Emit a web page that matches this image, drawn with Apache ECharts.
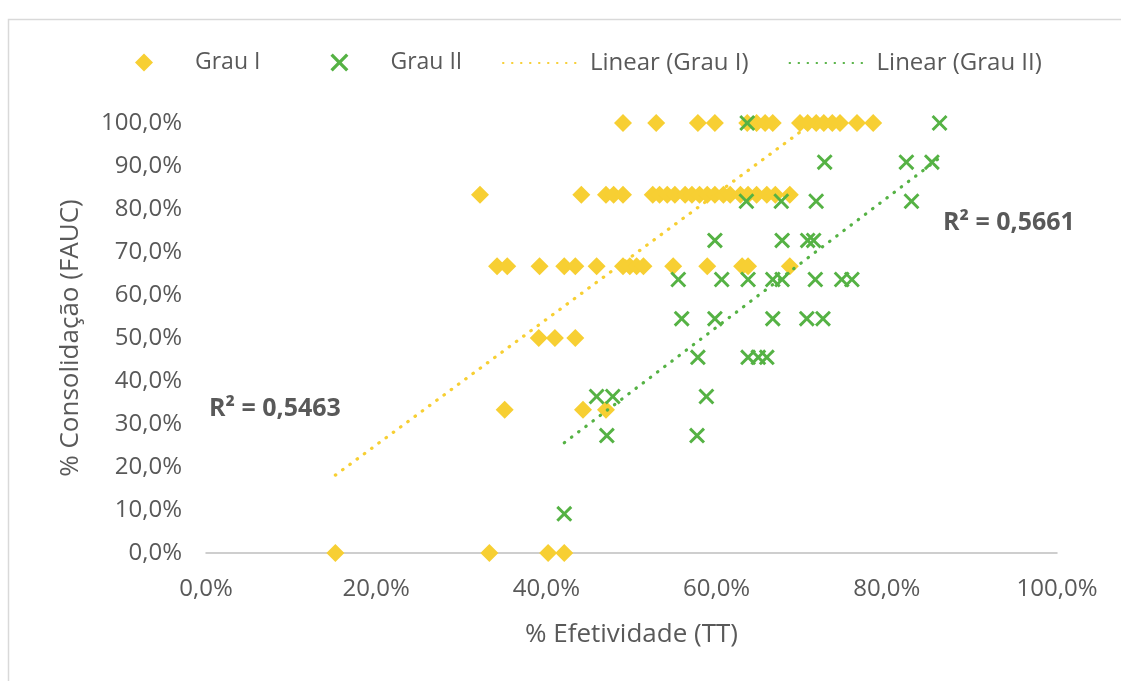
<!DOCTYPE html>
<html>
<head>
<meta charset="utf-8">
<script src="https://cdn.jsdelivr.net/npm/echarts@6/dist/echarts.min.js"></script>
<style>
  html, body { margin: 0; padding: 0; background: #fff; }
  #chart { width: 1121px; height: 681px; }
</style>
</head>
<body>
<div id="chart"></div>
<script>
// Grau I: % Efetividade (TT) vs % Consolidação (FAUC)
const grau1X = [
  49.0, 52.9, 57.8, 59.8, 63.6, 64.7, 65.7, 66.6, 69.8, 70.7, 71.7, 72.6, 73.6, 74.5, 76.5, 78.4,
  32.2, 44.1, 47.0, 47.9, 49.0, 52.5, 53.3, 54.2, 55.1, 56.3, 57.1, 58.0, 58.9, 59.8, 60.8, 61.6, 62.8, 63.7, 64.7, 65.9, 66.9, 68.6,
  34.2, 35.4, 39.2, 42.1, 43.4, 45.9, 49.0, 49.8, 50.6, 51.4, 54.9, 58.9, 63.0, 63.7, 68.6,
  39.1, 41.0, 43.4,
  35.1, 44.3, 47.0,
  15.2, 33.3, 40.2, 42.1
];
const grau1Y = [
  100, 100, 100, 100, 100, 100, 100, 100, 100, 100, 100, 100, 100, 100, 100, 100,
  83.3, 83.3, 83.3, 83.3, 83.3, 83.3, 83.3, 83.3, 83.3, 83.3, 83.3, 83.3, 83.3, 83.3, 83.3, 83.3, 83.3, 83.3, 83.3, 83.3, 83.3, 83.3,
  66.7, 66.7, 66.7, 66.7, 66.7, 66.7, 66.7, 66.7, 66.7, 66.7, 66.7, 66.7, 66.7, 66.7, 66.7,
  50, 50, 50,
  33.3, 33.3, 33.3,
  0, 0, 0, 0
];

// Grau II
const grau2X = [
  63.6, 86.2,
  72.7, 82.3, 85.3,
  63.5, 67.6, 71.7, 82.9,
  59.8, 67.7, 70.7, 71.4,
  55.5, 60.6, 63.7, 66.6, 67.7, 71.6, 74.7, 75.9,
  55.9, 59.8, 66.6, 70.6, 72.5,
  57.8, 63.7, 64.9, 65.9,
  45.9, 47.8, 58.8,
  47.1, 57.7,
  42.1
];
const grau2Y = [
  100, 100,
  90.9, 90.9, 90.9,
  81.8, 81.8, 81.8, 81.8,
  72.7, 72.7, 72.7, 72.7,
  63.6, 63.6, 63.6, 63.6, 63.6, 63.6, 63.6, 63.6,
  54.5, 54.5, 54.5, 54.5, 54.5,
  45.5, 45.5, 45.5, 45.5,
  36.4, 36.4, 36.4,
  27.3, 27.3,
  9.1
];

// Linear trendlines (slope, intercept) and their R²
const trend1 = { slope: 1.461, intercept: -4.1, r2: '0,5463' };
const trend2 = { slope: 1.502, intercept: -37.6, r2: '0,5661' };

const seriesNames = ['Grau I', 'Grau II', 'Linear (Grau I)', 'Linear (Grau II)'];
const axisTitleX = '% Efetividade (TT)';
const axisTitleY = '% Consolidação (FAUC)';

const YELLOW = '#F7CF33';
const GREEN = '#55B244';
const TEXT = '#595959';
const FONT = '"Open Sans", "Noto Sans", sans-serif';
const CROSS = 'path://M1.3,0 L5,3.7 L8.7,0 L10,1.3 L6.3,5 L10,8.7 L8.7,10 L5,6.3 L1.3,10 L0,8.7 L3.7,5 L0,1.3 Z';

const zip = (xs, ys) => xs.map((x, i) => [x, ys[i]]);
function trendPoints(xs, t) {
  const lo = Math.min(...xs), hi = Math.max(...xs);
  return [[lo, t.slope * lo + t.intercept], [hi, t.slope * hi + t.intercept]];
}
const pct = v => v.toFixed(1).replace('.', ',') + '%';

const dotted = color => ({ color: color, width: 3.2, type: [0.5, 8.5], cap: 'round', opacity: 1 });

const chart = echarts.init(document.getElementById('chart'), null, { renderer: 'canvas' });
chart.setOption({
  animation: false,
  backgroundColor: '#fff',
  textStyle: { fontFamily: FONT },
  grid: { left: 206, right: 64, top: 123, bottom: 128 },
  legend: [
    {
      data: [seriesNames[0], seriesNames[1]],
      left: 130, top: 46,
      itemWidth: 18, itemHeight: 18, itemGap: 70,
      textStyle: { color: TEXT, fontSize: 23, fontFamily: FONT, padding: [0, 0, 0, 37] }
    },
    {
      data: [seriesNames[2], seriesNames[3]],
      left: 497, top: 46,
      itemWidth: 80, itemHeight: 18, itemGap: 40,
      itemStyle: { opacity: 0 },
      textStyle: { color: TEXT, fontSize: 24, fontFamily: FONT, padding: [0, 0, 0, 2] }
    }
  ],
  xAxis: {
    type: 'value', min: 0, max: 100, interval: 20,
    name: axisTitleX, nameLocation: 'middle', nameGap: 69,
    nameTextStyle: { color: TEXT, fontSize: 26, fontFamily: FONT },
    axisLine: { show: true, lineStyle: { color: '#BFBFBF', width: 1.5 } },
    axisTick: { show: false },
    splitLine: { show: false },
    axisLabel: { color: TEXT, fontSize: 24, fontFamily: FONT, margin: 24, formatter: pct }
  },
  yAxis: {
    type: 'value', min: 0, max: 100, interval: 10,
    name: axisTitleY, nameLocation: 'middle', nameGap: 122,
    nameTextStyle: { color: TEXT, fontSize: 26, fontFamily: FONT },
    axisLine: { show: false },
    axisTick: { show: false },
    splitLine: { show: false },
    axisLabel: { color: TEXT, fontSize: 24, fontFamily: FONT, margin: 24, formatter: pct }
  },
  graphic: [
    {
      type: 'rect', left: 6, top: 17, z: -10, silent: true,
      shape: { width: 1300, height: 900 },
      style: { fill: 'none', stroke: '#D9D9D9', lineWidth: 1.5 }
    },
    {
      type: 'text', left: 209, top: 396,
      style: { text: 'R² = ' + trend1.r2, fill: TEXT, font: 'bold 25px ' + FONT }
    },
    {
      type: 'text', left: 943, top: 210,
      style: { text: 'R² = ' + trend2.r2, fill: TEXT, font: 'bold 25px ' + FONT }
    }
  ],
  series: [
    {
      name: seriesNames[0], type: 'scatter',
      symbol: 'diamond', symbolSize: 18,
      itemStyle: { color: YELLOW, opacity: 1 },
      data: zip(grau1X, grau1Y)
    },
    {
      name: seriesNames[1], type: 'scatter',
      symbol: CROSS, symbolSize: 16,
      itemStyle: { color: GREEN, opacity: 1 },
      data: zip(grau2X, grau2Y)
    },
    {
      name: seriesNames[2], type: 'line', clip: true,
      showSymbol: false, symbol: 'none',
      itemStyle: { color: YELLOW },
      lineStyle: dotted(YELLOW),
      data: trendPoints(grau1X, trend1)
    },
    {
      name: seriesNames[3], type: 'line', clip: true,
      showSymbol: false, symbol: 'none',
      itemStyle: { color: GREEN },
      lineStyle: dotted(GREEN),
      data: trendPoints(grau2X, trend2)
    }
  ]
});
</script>
</body>
</html>
